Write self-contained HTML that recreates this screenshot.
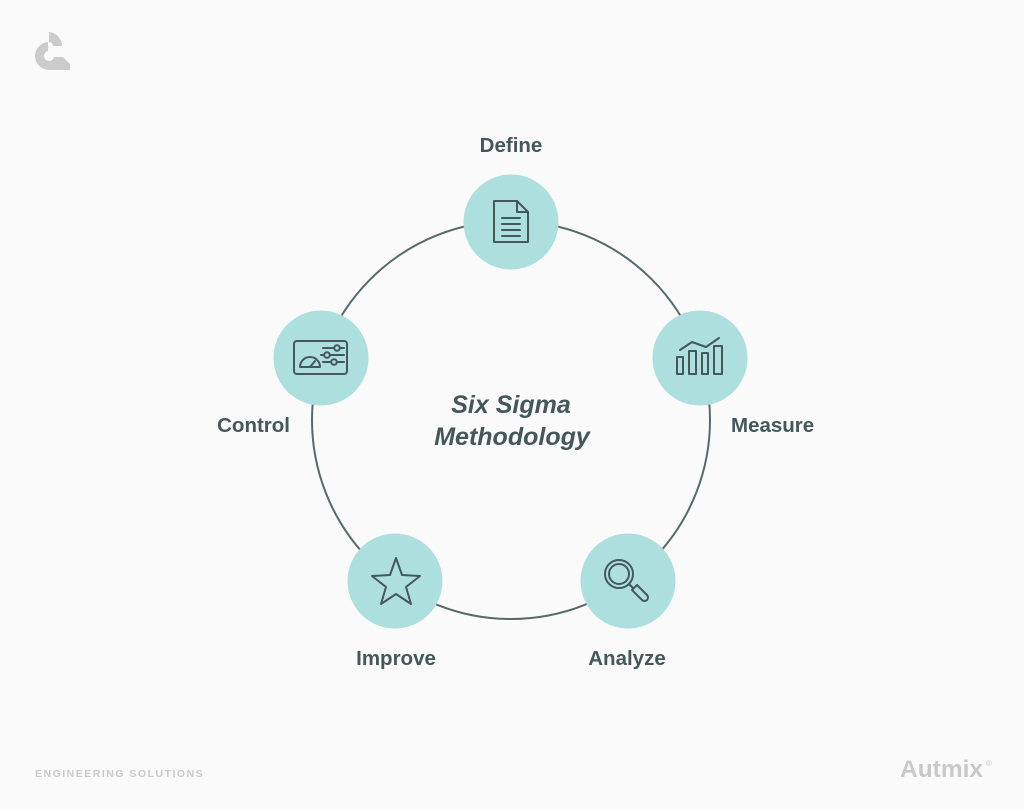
<!DOCTYPE html>
<html>
<head>
<meta charset="utf-8">
<style>
  html,body{margin:0;padding:0;}
  body{width:1024px;height:810px;background:#fafafa;overflow:hidden;position:relative;font-family:"Liberation Sans",sans-serif;}
  svg{position:absolute;left:0;top:0;}
  .lbl{font-family:"Liberation Sans",sans-serif;font-weight:bold;font-size:20.5px;fill:#44585b;}
  .title{font-family:"Liberation Sans",sans-serif;font-weight:bold;font-style:italic;font-size:25px;fill:#44585b;}
</style>
</head>
<body>
<svg width="1024" height="810" viewBox="0 0 1024 810" xmlns="http://www.w3.org/2000/svg">
  <!-- logo -->
  <g fill="#cbcbcb">
    <path d="M49 32 A14 14 0 0 1 62 46 L53 46 A4 4 0 0 0 49 42 Z"/>
    <path d="M48 42 A14 14 0 0 0 35 56 A14 14 0 0 0 49 70 L70 70 L70 64 L63 57 L54 57 A5 5 0 0 1 49 61 A5 5 0 0 1 44 56 A5 5 0 0 1 48 51 Z"/>
  </g>

  <!-- big circle -->
  <circle cx="511" cy="420" r="199" fill="none" stroke="#56696b" stroke-width="2"/>

  <!-- nodes -->
  <g fill="#aedfdf">
    <circle cx="511" cy="222" r="47.5"/>
    <circle cx="700" cy="358" r="47.5"/>
    <circle cx="628" cy="581" r="47.5"/>
    <circle cx="395" cy="581" r="47.5"/>
    <circle cx="321" cy="358" r="47.5"/>
  </g>

  <g fill="none" stroke="#44585b" stroke-width="2" stroke-linejoin="round" stroke-linecap="round">
    <!-- Define: document -->
    <path d="M494 201 L517 201 L528 212 L528 242 L494 242 Z"/>
    <path d="M517 201 L517 212 L528 212"/>
    <line x1="502" y1="218" x2="520" y2="218"/>
    <line x1="502" y1="224" x2="520" y2="224"/>
    <line x1="502" y1="230" x2="520" y2="230"/>
    <line x1="502" y1="236" x2="520" y2="236"/>

    <!-- Measure: bar chart -->
    <rect x="677" y="357" width="6" height="17"/>
    <rect x="689" y="351" width="7" height="23"/>
    <rect x="702" y="353" width="6" height="21"/>
    <rect x="714" y="346" width="8" height="28"/>
    <polyline points="680,350 692,342 706,347 719,338"/>

    <!-- Analyze: magnifier -->
    <circle cx="619" cy="574" r="14"/>
    <circle cx="619" cy="574" r="10"/>
    <path d="M629 584 L633 588"/>
    <path d="M632 590 L637 585 L647 595 A3.5 3.5 0 0 1 642 600 Z"/>

    <!-- Improve: star -->
    <polygon points="396,558 402,575 420,576 406,587 411,604 396,594 381,604 386,587 372,576 390,575"/>

    <!-- Control: dashboard -->
    <rect x="294" y="341" width="53" height="33" rx="3"/>
    <path d="M300 367 A10 10 0 0 1 320 367 Z"/>
    <line x1="310" y1="367" x2="315" y2="361"/>
    <line x1="323" y1="348" x2="344" y2="348"/>
    <line x1="321" y1="355" x2="344" y2="355"/>
    <line x1="323" y1="362" x2="344" y2="362"/>
    <circle cx="337" cy="348" r="2.8" fill="#aedfdf"/>
    <circle cx="327" cy="355" r="2.8" fill="#aedfdf"/>
    <circle cx="334" cy="362" r="2.8" fill="#aedfdf"/>
  </g>

  <!-- labels -->
  <text class="lbl" x="511" y="152" text-anchor="middle">Define</text>
  <text class="lbl" x="731" y="432">Measure</text>
  <text class="lbl" x="290" y="432" text-anchor="end">Control</text>
  <text class="lbl" x="396" y="665" text-anchor="middle">Improve</text>
  <text class="lbl" x="627" y="665" text-anchor="middle">Analyze</text>

  <text class="title" x="511" y="413" text-anchor="middle">Six Sigma</text>
  <text class="title" x="512" y="445" text-anchor="middle">Methodology</text>

  <!-- footer -->
  <text x="35" y="777" font-family="Liberation Sans, sans-serif" font-weight="bold" font-size="10.5" letter-spacing="1.5" fill="#c9c9c9">ENGINEERING SOLUTIONS</text>
  <text x="900" y="777" font-family="Liberation Sans, sans-serif" font-weight="bold" font-size="24.5" fill="#c9c9c9">Autmix</text>
  <text x="986" y="766" font-family="Liberation Sans, sans-serif" font-size="8" fill="#c9c9c9">®</text>
</svg>
</body>
</html>
